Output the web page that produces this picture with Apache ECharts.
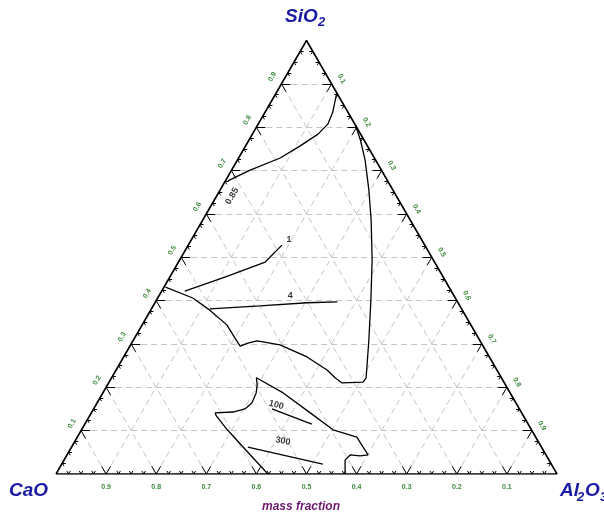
<!DOCTYPE html>
<html><head><meta charset="utf-8">
<script src="https://cdn.jsdelivr.net/npm/echarts@6/dist/echarts.min.js"></script>
<style>html,body{margin:0;padding:0;background:#fff}#c{width:604px;height:515px}</style>
</head><body><div id="c"></div>
<script>
// Compositions are [SiO2, Al2O3] mass fractions (CaO = 1 - SiO2 - Al2O3)
const gridValues = [0.1,0.2,0.3,0.4,0.5,0.6,0.7,0.8,0.9];
const bottomTickLabels = ['0.9','0.8','0.7','0.6','0.5','0.4','0.3','0.2','0.1']; // CaO
const leftTickLabels   = ['0.1','0.2','0.3','0.4','0.5','0.6','0.7','0.8','0.9']; // SiO2
const rightTickLabels  = ['0.9','0.8','0.7','0.6','0.5','0.4','0.3','0.2','0.1']; // Al2O3
const minorStep = 0.025;

const iso085 = [[0.676,0.005],[0.701,0.037],[0.729,0.083],[0.757,0.109],[0.784,0.131],[0.807,0.139],[0.835,0.135],[0.863,0.126],[0.879,0.121]];
const boundary = [[0.431,0.003],[0.406,0.070],[0.378,0.118],[0.344,0.169],[0.314,0.200],[0.295,0.220],[0.302,0.232],[0.307,0.248],[0.298,0.298],[0.270,0.366],[0.240,0.421],[0.222,0.446],[0.210,0.466],[0.212,0.507],[0.222,0.508],[0.309,0.470],[0.401,0.428],[0.494,0.384],[0.586,0.336],[0.655,0.297],[0.724,0.255],[0.771,0.222],[0.805,0.195]];
const iso1 = [[0.422,0.046],[0.454,0.110],[0.489,0.173],[0.528,0.187]];
const iso4 = [[0.381,0.117],[0.388,0.213],[0.395,0.304],[0.397,0.363]];
const lowerField = [[0.000,0.423],[0.037,0.375],[0.078,0.322],[0.102,0.291],[0.134,0.253],[0.141,0.247],[0.143,0.282],[0.150,0.302],[0.164,0.309],[0.187,0.306],[0.205,0.299],[0.222,0.289],[0.187,0.360],[0.141,0.437],[0.102,0.502],[0.085,0.558],[0.062,0.582],[0.044,0.601],[0.042,0.586],[0.044,0.565],[0.032,0.561],[0.000,0.577]];
const iso100 = [[0.150,0.356],[0.115,0.453]];
const iso300 = [[0.062,0.352],[0.023,0.521]];
const isoLabels = [
  {text:'0.85', at:[0.641,0.031], rot:60},
  {text:'1',    at:[0.540,0.195], rot:0},
  {text:'4',    at:[0.411,0.262], rot:0},
  {text:'100',  at:[0.159,0.360], rot:-15},
  {text:'300',  at:[0.076,0.415], rot:-10}
];

const H = Math.sqrt(3)/2;
const toXY = c => [c[1] + c[0]/2, c[0]*H];
const ternXY = (s,a) => toXY([s,a]);

// grid lines
const gridSegs = [];
gridValues.forEach(v => {
  gridSegs.push({coords:[ternXY(v,0), ternXY(v,1-v)]});          // const SiO2
  gridSegs.push({coords:[ternXY(0,v), ternXY(1-v,v)]});          // const Al2O3
  gridSegs.push({coords:[ternXY(0,1-v), ternXY(1-v,0)]});        // const CaO
});
// ticks
const tickSegs = [];
const dUL = [-0.5,H], dUR=[0.5,H], dR=[1,0], dL=[-1,0], dDR=[0.5,-H], dDL=[-0.5,-H];
function addTick(p, d, len){ tickSegs.push({coords:[p,[p[0]+d[0]*len,p[1]+d[1]*len]]}); }
for (let i=1;i<40;i++){
  const v = i*minorStep;
  const major = (i%4===0);
  const len = major ? 0.018 : 0.007;
  const pb = ternXY(0,v);      // bottom
  addTick(pb,dUL,len); addTick(pb,dUR,len);
  const pl = ternXY(v,0);      // left edge
  addTick(pl,dR,len); addTick(pl,dDR,len);
  const pr = ternXY(v,1-v);    // right edge
  addTick(pr,dL,len); addTick(pr,dDL,len);
}
// label offset in screen px, compensating the label rotation
function rotOffset(dx, dy, rotDeg){
  const t = rotDeg*Math.PI/180, c = Math.cos(t), s = Math.sin(t);
  return [dx*c - dy*s, dx*s + dy*c];
}

const curveStyle = {color:'#000', width:1.3};
const mkLine = d => ({type:'line', data:d.map(toXY), symbol:'none', lineStyle:curveStyle, silent:true, z:5});
const tickFont = {color:'#0b6b0b', fontSize:7, fontWeight:'bold', fontFamily:'Liberation Sans'};
const blue = '#1a1aa6';

const chart = echarts.init(document.getElementById('c'));
chart.setOption({
  animation:false,
  backgroundColor:'#fff',
  grid:{left:56, top:40.5, width:501, height:433.5},
  xAxis:{type:'value', min:0, max:1, show:false},
  yAxis:{type:'value', min:0, max:H, show:false},
  series:[
    {type:'lines', coordinateSystem:'cartesian2d', data:gridSegs, silent:true, z:1,
     lineStyle:{color:'#c4c4c4', width:1, type:[6,4], opacity:1}},
    {type:'lines', coordinateSystem:'cartesian2d', data:tickSegs, silent:true, z:3,
     lineStyle:{color:'#000', width:1, opacity:1}},
    {type:'line', data:[[0,0],[1,0],[0.5,H],[0,0]], symbol:'none', lineStyle:{color:'#000',width:1.6}, silent:true, z:4},
    mkLine(iso085), mkLine(boundary), mkLine(iso1), mkLine(iso4), mkLine(lowerField), mkLine(iso100), mkLine(iso300),
    {type:'scatter', symbolSize:0, silent:true, z:6,
     data: gridValues.map((v,i)=>({value:ternXY(0,v), label:{show:true, formatter:bottomTickLabels[i], offset:[0,13], ...tickFont}}))},
    {type:'scatter', symbolSize:0, silent:true, z:6,
     data: gridValues.map((v,i)=>({value:ternXY(v,0), label:{show:true, formatter:leftTickLabels[i], offset:rotOffset(-9,-7,60), rotate:60, ...tickFont}}))},
    {type:'scatter', symbolSize:0, silent:true, z:6,
     data: gridValues.map((v,i)=>({value:ternXY(v,1-v), label:{show:true, formatter:rightTickLabels[i], offset:rotOffset(10,-5,-60), rotate:-60, ...tickFont}}))},
    {type:'scatter', symbolSize:0, silent:true, z:7,
     data: isoLabels.map(l=>({value:toXY(l.at), label:{show:true, formatter:l.text, rotate:l.rot, color:'#000', fontSize:9, fontWeight:'bold', fontFamily:'Liberation Sans', position:'inside'}}))}
  ],
  graphic:[
    {type:'text', left:285, top:7, style:{text:'SiO', font:'italic bold 19px "Liberation Sans"', fill:blue}},
    {type:'text', left:318, top:16, style:{text:'2', font:'italic bold 13px "Liberation Sans"', fill:blue}},
    {type:'text', left:9, top:481, style:{text:'CaO', font:'italic bold 19px "Liberation Sans"', fill:blue}},
    {type:'text', left:560, top:481, style:{text:'Al', font:'italic bold 19px "Liberation Sans"', fill:blue}},
    {type:'text', left:577, top:491, style:{text:'2', font:'italic bold 13px "Liberation Sans"', fill:blue}},
    {type:'text', left:585, top:481, style:{text:'O', font:'italic bold 19px "Liberation Sans"', fill:blue}},
    {type:'text', left:600, top:491, style:{text:'3', font:'italic bold 13px "Liberation Sans"', fill:blue}},
    {type:'text', left:262, top:501, style:{text:'mass fraction', font:'italic bold 12px "Liberation Sans"', fill:'#6e186e'}}
  ]
});
</script></body></html>
